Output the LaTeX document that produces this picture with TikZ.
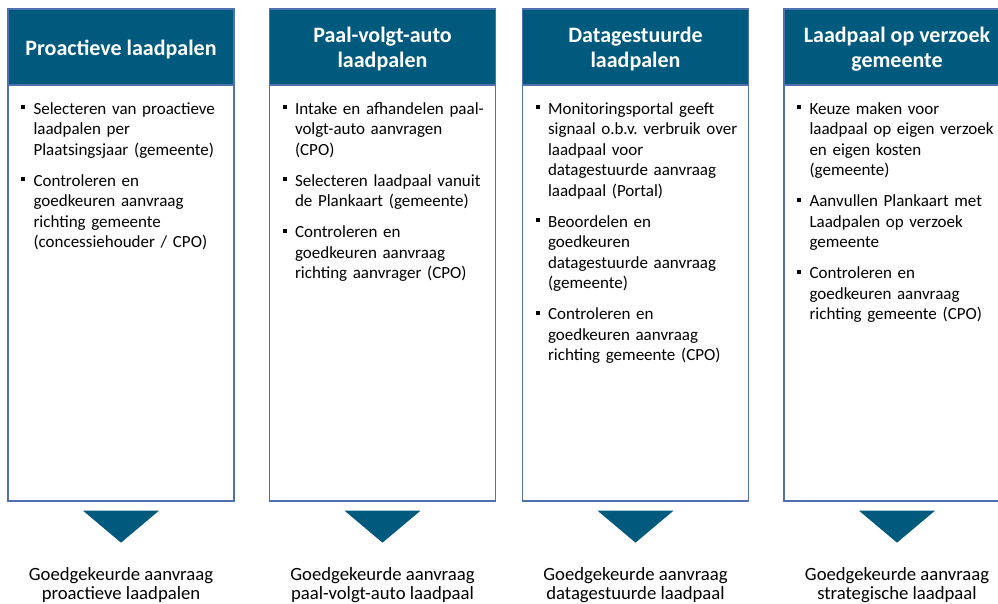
\documentclass[tikz,border=0pt]{standalone}
\usepackage{fontspec}
\setmainfont{Carlito}
\frenchspacing

\definecolor{hdrblue}{RGB}{0,90,125}
\definecolor{edgeblue}{RGB}{79,113,175}

% bullet item: square bullet hanging in the left skip
\newcommand{\bitem}{\par\noindent\llap{\makebox[12.3pt][l]{\rule[4.8pt]{4pt}{4pt}}}\rule{0pt}{14pt}\ignorespaces}
\newcommand{\igap}{\par\vspace{10.5pt}}

\tikzset{
  hdr/.style={fill=hdrblue, draw=edgeblue, line width=1.3pt,
    minimum width=226pt, minimum height=76pt, inner sep=0pt},
  title/.style={text=white, font=\bfseries\fontsize{22}{25}\selectfont,
    align=center, inner sep=0pt, yshift=-2.2pt},
  panel/.style={draw=edgeblue, line width=1.3pt, fill=white,
    minimum width=226pt, minimum height=416pt, inner sep=0pt},
  items/.style={anchor=north west, text width=215pt, align=left, inner sep=0pt,
    font=\fontsize{17}{20.5}\selectfont,
    execute at begin node={\leftskip=12.3pt\relax}},
  outlbl/.style={align=center, font=\fontsize{18.7}{19.5}\selectfont, inner sep=0pt},
  funnel/.style={fill=hdrblue}
}

\begin{document}
\begin{tikzpicture}[x=1pt,y=-1pt]
\useasboundingbox (0,0) rectangle (998,603);
\clip (0,0) rectangle (998,603);

% column 1
\node[panel] (panel1) at (121,293) {};
\node[hdr] (hdr1) at (121,47) {};
\node[title] (ttl1) at (hdr1.center) {Proactieve laadpalen};
\node[items] (txt1) at (21,93.5) {%
  \bitem Selecteren van proactieve\\laadpalen per\\Plaatsingsjaar (gemeente)\igap
  \bitem Controleren en\\goedkeuren aanvraag\\richting gemeente\\(concessiehouder / CPO)};
\fill[funnel] (panel1.south) ++(-38,9) -- ++(76,0) -- ++(-38,32) coordinate (f1) -- cycle;
\path (panel1.south) ++(0,83.5) node[outlbl] (res1) {Goedgekeurde aanvraag\\proactieve laadpalen};

% column 2
\node[panel] (panel2) at (382.5,293) {};
\node[hdr] (hdr2) at (382.5,47) {};
\node[title] (ttl2) at (hdr2.center) {Paal-volgt-auto\\laadpalen};
\node[items] (txt2) at (282.5,93.5) {%
  \bitem Intake en afhandelen paal-\\volgt-auto aanvragen\\(CPO)\igap
  \bitem Selecteren laadpaal vanuit\\de Plankaart (gemeente)\igap
  \bitem Controleren en\\goedkeuren aanvraag\\richting aanvrager (CPO)};
\fill[funnel] (panel2.south) ++(-38,9) -- ++(76,0) -- ++(-38,32) coordinate (f2) -- cycle;
\path (panel2.south) ++(0,83.5) node[outlbl] (res2) {Goedgekeurde aanvraag\\paal-volgt-auto laadpaal};

% column 3
\node[panel] (panel3) at (635.5,293) {};
\node[hdr] (hdr3) at (635.5,47) {};
\node[title] (ttl3) at (hdr3.center) {Datagestuurde\\laadpalen};
\node[items] (txt3) at (535.5,93.5) {%
  \bitem Monitoringsportal geeft\\signaal o.b.v. verbruik over\\laadpaal voor\\datagestuurde aanvraag\\laadpaal (Portal)\igap
  \bitem Beoordelen en\\goedkeuren\\datagestuurde aanvraag\\(gemeente)\igap
  \bitem Controleren en\\goedkeuren aanvraag\\richting gemeente (CPO)};
\fill[funnel] (panel3.south) ++(-38,9) -- ++(76,0) -- ++(-38,32) coordinate (f3) -- cycle;
\path (panel3.south) ++(0,83.5) node[outlbl] (res3) {Goedgekeurde aanvraag\\datagestuurde laadpaal};

% column 4 (runs past the right edge)
\node[panel] (panel4) at (897,293) {};
\node[hdr] (hdr4) at (897,47) {};
\node[title] (ttl4) at (hdr4.center) {Laadpaal op verzoek\\gemeente};
\node[items] (txt4) at (797,93.5) {%
  \bitem Keuze maken voor\\laadpaal op eigen verzoek\\en eigen kosten\\(gemeente)\igap
  \bitem Aanvullen Plankaart met\\Laadpalen op verzoek\\gemeente\igap
  \bitem Controleren en\\goedkeuren aanvraag\\richting gemeente (CPO)};
\fill[funnel] (panel4.south) ++(-38,9) -- ++(76,0) -- ++(-38,32) coordinate (f4) -- cycle;
\path (panel4.south) ++(0,83.5) node[outlbl] (res4) {Goedgekeurde aanvraag\\strategische laadpaal};
\end{tikzpicture}
\end{document}
